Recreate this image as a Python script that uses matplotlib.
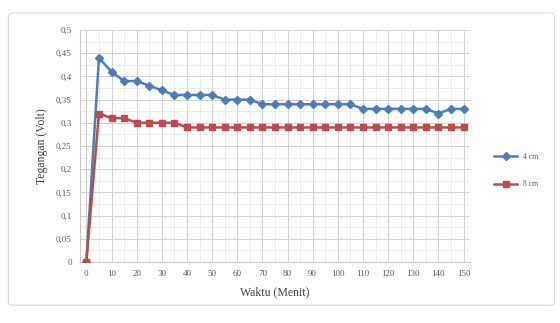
import numpy as np
import matplotlib
matplotlib.use("Agg")
import matplotlib.pyplot as plt
import matplotlib.patches as mpatch

plt.rcParams['font.family'] = ['Liberation Serif', 'DejaVu Serif']

waktu = list(range(0, 155, 5))
v_4cm = [0, 0.44, 0.41, 0.39, 0.39, 0.38, 0.37, 0.36, 0.36, 0.36, 0.36,
         0.35, 0.35, 0.35, 0.34, 0.34, 0.34, 0.34, 0.34, 0.34, 0.34, 0.34,
         0.33, 0.33, 0.33, 0.33, 0.33, 0.33, 0.32, 0.33, 0.33]
v_8cm = [0, 0.32, 0.31, 0.31, 0.30, 0.30, 0.30, 0.30, 0.29, 0.29, 0.29,
         0.29, 0.29, 0.29, 0.29, 0.29, 0.29, 0.29, 0.29, 0.29, 0.29, 0.29,
         0.29, 0.29, 0.29, 0.29, 0.29, 0.29, 0.29, 0.29, 0.29]
labels = ['4 cm', '8 cm']
x_ticks = list(range(0, 160, 10))
y_ticks = [0, 0.05, 0.1, 0.15, 0.2, 0.25, 0.3, 0.35, 0.4, 0.45, 0.5]

fig = plt.figure(figsize=(5.6, 3.23), dpi=100)
fig.patches.append(mpatch.FancyBboxPatch((0.015, 0.055), 0.975, 0.905,
                                         boxstyle="round,pad=0,rounding_size=0.01",
                                         transform=fig.transFigure, fill=False,
                                         edgecolor='#d9d9d9', linewidth=0.8))
ax = fig.add_axes([0.143, 0.189, 0.696, 0.718])

ax.plot(waktu, v_4cm, color='#4a7ebb', marker='D', markersize=4,
        linewidth=1.8, label=labels[0], zorder=3)
ax.plot(waktu, v_8cm, color='#be4b48', marker='s', markersize=4,
        linewidth=1.8, label=labels[1], zorder=3)

ax.set_xlim(-2.5, 152.5)
ax.set_ylim(0, 0.5)
ax.set_xticks(x_ticks)
ax.set_xticks(waktu, minor=True)
ax.set_yticks(y_ticks)
ax.set_yticks(np.arange(0.025, 0.5, 0.05), minor=True)
ax.set_yticklabels([('%g' % v).replace('.', ',') for v in y_ticks])
ax.tick_params(axis='both', which='both', length=0, labelsize=6.5,
               colors='#595959', pad=6)
ax.grid(True, which='major', color='#d0d0d0', linewidth=0.7)
ax.grid(True, which='minor', color='#e4e4e4', linewidth=0.5)
for s in ax.spines.values():
    s.set_visible(False)
ax.spines['left'].set_visible(True)
ax.spines['left'].set_color('#c8c8c8')
ax.spines['bottom'].set_visible(True)
ax.spines['bottom'].set_color('#c8c8c8')

ax.set_xlabel('Waktu (Menit)', fontsize=8.5, color='#404040', labelpad=6)
ax.set_ylabel('Tegangan (Volt)', fontsize=8.5, color='#404040', labelpad=6)

fig.legend(loc='center left', bbox_to_anchor=(0.87, 0.472), frameon=False,
           fontsize=5.5, handlelength=3, labelspacing=2.6, labelcolor='#595959')

fig.savefig('out.png', dpi=100)
